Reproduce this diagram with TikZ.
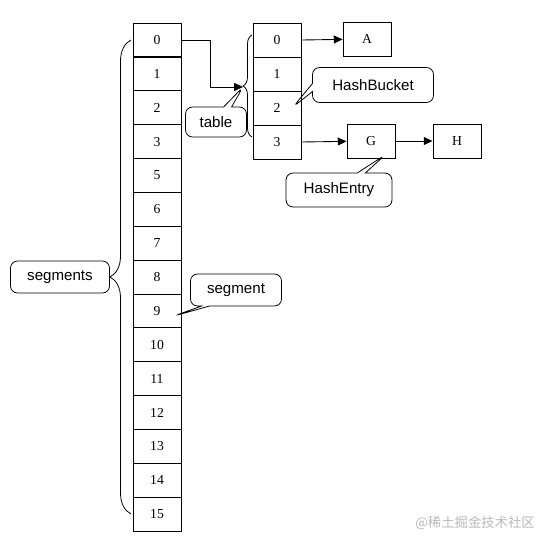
\documentclass[tikz,border=0pt]{standalone}
\usepackage{fontspec}
\setmainfont{Liberation Serif}
\setsansfont{Liberation Sans}
\newfontfamily\cjkfont{Noto Sans CJK SC}
\usetikzlibrary{shapes.callouts,decorations.pathreplacing,arrows.meta}

\begin{document}
\begin{tikzpicture}[x=0.02cm, y=-0.02cm,
    cell/.style={draw, line width=0.5pt, minimum width=0.96cm,
                 minimum height=0.68cm, inner sep=0pt,
                 font=\fontsize{7.8}{9}\selectfont},
    note/.style={rectangle callout, draw, line width=0.45pt, rounded corners=4pt,
                 inner sep=0pt, callout pointer width=0.16cm,
                 font=\sffamily\fontsize{8.6}{10}\selectfont},
    arr/.style={-{Triangle[length=5pt,width=4.5pt]}, line width=0.5pt},
    brc/.style={decorate, decoration={brace, amplitude=#1}, line width=0.45pt}
  ]
    \useasboundingbox (0,0) rectangle (555,545);

    % segments array
    \foreach \n [count=\i from 0] in {0,1,2,3,5,6,...,15}
      \node[cell, minimum height=0.677cm] (s\n) at (157,{40+33.86*\i}) {\n};

    % table of one segment
    \foreach \n in {0,...,3}
      \node[cell] (t\n) at (277,{40+34*\n}) {\n};

    \node[cell] (a) at (367,39) {A};
    \node[cell] (g) at (371,141) {G};
    \node[cell] (h) at (457,141) {H};

    \draw[arr] (t0.east) -- (a);
    \draw[arr] (t3.east) -- (g);
    \draw[arr] (g) -- (h);

    % braces
    \draw[brc=0.42cm] (131,514) -- (131,40);
    \draw[brc=0.18cm] (252,137) -- (252,35);
    \coordinate (sb) at (110,277);
    \coordinate (tb) at (243,87);

    \draw[arr] (s0.east) -- ++(29,0) |- (tb);

    % callouts
    \coordinate (pb) at (293,107);
    \coordinate (pe) at (385,155);
    \coordinate (ps) at (174,316);
    \node[note, minimum width=1.22cm, minimum height=0.6cm,
          callout absolute pointer={(tb)}] (table) at (216,122) {table};
    \node[note, minimum width=2.42cm, minimum height=0.7cm,
          callout absolute pointer={(pb)}] (bucket) at (373,85) {HashBucket};
    \node[note, minimum width=2.12cm, minimum height=0.68cm,
          callout absolute pointer={(pe)}] (entry) at (339,190) {HashEntry};
    \node[note, minimum width=1.82cm, minimum height=0.64cm,
          callout absolute pointer={(ps)}] (seg) at (236,290) {segment};
    \node[draw, line width=0.45pt, rounded corners=4pt, minimum width=1.98cm,
          minimum height=0.64cm, font=\sffamily\fontsize{8.6}{10}\selectfont]
          (segs) at (60,277) {segments};

    \node[anchor=east, text=gray!55, font=\cjkfont\fontsize{7.6}{9}\selectfont]
          (mark) at (541,523) {@稀土掘金技术社区};
\end{tikzpicture}
\end{document}
